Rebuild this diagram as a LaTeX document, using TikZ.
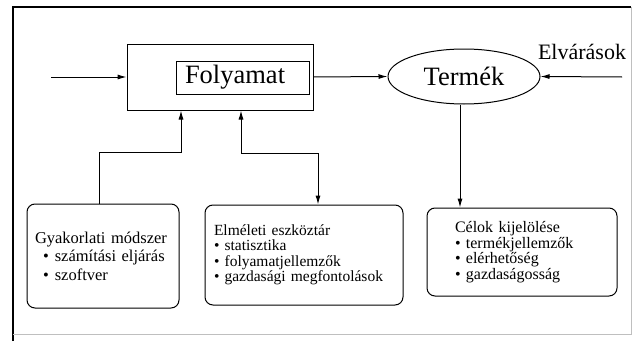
\documentclass[tikz,border=0pt]{standalone}
\usepackage{fontspec}
\setmainfont{Liberation Serif}
\usepackage{tikz}
\usetikzlibrary{positioning}
\usetikzlibrary{shapes.geometric,arrows.meta}
\tikzset{%
  arr/.style = {-{Latex[length=9pt,width=5pt]},line width=1pt},
  darr/.style = {{Latex[length=9pt,width=5pt]}-{Latex[length=9pt,width=5pt]},line width=1pt},
  pbox/.style = {rectangle,draw,line width=1pt,minimum width=186pt,
        minimum height=66pt},
  ibox/.style = {rectangle,draw,line width=1pt,minimum height=33pt,
        text width=115pt,inner xsep=9pt,inner ysep=0pt,align=left,
        font=\rmfamily\fontsize{26.5}{28}\selectfont},
  prod/.style = {ellipse,draw,line width=1pt,minimum width=152pt,
        minimum height=55pt,inner sep=0pt,font=\rmfamily\fontsize{26.5}{28}\selectfont},
  tbox/.style = {rectangle,draw,line width=1pt,rounded corners=8pt,
        align=left,inner ysep=0pt}
}

\begin{document}
\begin{tikzpicture}[x=1pt,y=1pt]
  \useasboundingbox (0,0) rectangle (636,341);
  % frame
  \draw[line width=2pt] (13,0) -- (13,334) -- (631,334);
  \draw[black!25,line width=0.8pt] (13,7) -- (631,7) -- (631,334);

  \node[pbox] (outer) at (220,264) {};
  \node[ibox] (proc) at (242.5,263.5) {Folyamat};
  \node[prod] (termek) at (464,264.5) {Termék};
  \node[font=\rmfamily\fontsize{22}{24}\selectfont] (elv) at (582,289) {Elvárások};
  \coordinate (in) at (51,264);
  \coordinate (req) at (622,264);

  \node[tbox,minimum width=152pt,minimum height=104pt,text width=136pt,
        inner xsep=8pt,font=\rmfamily\fontsize{16.5}{18.5}\selectfont] (gyak) at (103,85)
        {Gyakorlati módszer\\
         \hspace*{8pt}\textbullet\hspace{6pt}számítási eljárás\\
         \hspace*{8pt}\textbullet\hspace{6pt}szoftver};
  \node[tbox,minimum width=198pt,minimum height=100pt,text width=180pt,
        inner xsep=9pt,font=\rmfamily\fontsize{15.5}{15.5}\selectfont] (elm) at (304,86)
        {Elméleti eszköztár\\
         \textbullet\ statisztika\\
         \textbullet\ folyamatjellemzők\\
         \textbullet\ gazdasági megfontolások};
  \node[tbox,minimum width=190pt,minimum height=88pt,text width=134pt,
        inner xsep=28pt,font=\rmfamily\fontsize{16}{15.5}\selectfont] (cel) at (522,89)
        {Célok kijelölése\\
         \textbullet\ termékjellemzők\\
         \textbullet\ elérhetőség\\
         \textbullet\ gazdaságosság};

  \draw[arr] (in) -- (outer.west);
  \draw[arr] (outer.east) -- (termek.west);
  \draw[arr] (req) -- (termek.east);
  \draw[arr] ([xshift=-4pt]gyak.north) -- ++(0,51) -| ([xshift=-39pt]outer.south);
  \draw[darr] ([xshift=21pt]outer.south) -- ++(0,-43) -| ([xshift=14pt]elm.north);
  \draw[arr] ([xshift=-4pt]termek.south) -- ([xshift=-4pt]termek.south |- cel.north);
\end{tikzpicture}
\end{document}
